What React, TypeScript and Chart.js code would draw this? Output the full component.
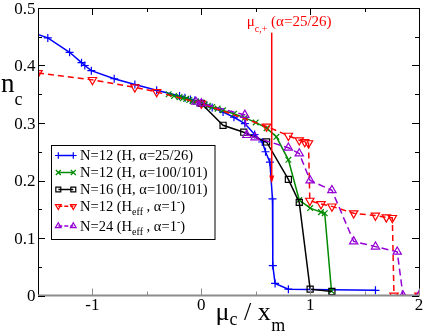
import React, { useEffect, useRef } from "react";
import { Chart, registerables } from "chart.js";

Chart.register(...registerables);

// ---------- data ----------
const blueX = [-1.56, -1.41, -1.21, -1.1, -1.07, -1.01, -0.8, -0.61, -0.41, -0.2, -0.15, -0.1, -0.06, -0.03, 0.0, 0.05, 0.1, 0.2, 0.3, 0.4, 0.49, 0.56, 0.59, 0.63, 0.654, 0.657, 0.678, 0.8, 1.6];
const blueY = [0.458, 0.448, 0.423, 0.405, 0.4, 0.391, 0.377, 0.367, 0.357, 0.347, 0.344, 0.341, 0.339, 0.336, 0.334, 0.331, 0.327, 0.319, 0.31, 0.299, 0.28, 0.267, 0.25, 0.232, 0.168, 0.052, 0.021, 0.011, 0.009];

const greenX = [-0.3, -0.25, -0.2, -0.17, -0.14, -0.11, -0.08, -0.05, -0.02, 0.0, 0.03, 0.06, 0.1, 0.15, 0.2, 0.3, 0.4, 0.5, 0.6, 0.69, 0.8, 0.9, 1.0, 1.1, 1.134, 1.196];
const greenY = [0.35, 0.347, 0.345, 0.343, 0.342, 0.34, 0.338, 0.337, 0.335, 0.334, 0.332, 0.33, 0.328, 0.325, 0.322, 0.316, 0.309, 0.301, 0.291, 0.276, 0.236, 0.166, 0.152, 0.145, 0.143, 0.008];

const blackX = [0.0, 0.2, 0.39, 0.6, 0.8, 0.9, 1.0, 1.2];
const blackY = [0.334, 0.296, 0.284, 0.267, 0.202, 0.162, 0.011, 0.007];

const redX = [-1.5, -1.0, -0.61, -0.41, 0.0, 0.6, 0.8, 0.9, 0.95, 0.985, 0.997, 1.1, 1.2, 1.4, 1.6, 1.7, 1.755, 1.77, 2.0];
const redY = [0.387, 0.375, 0.362, 0.354, 0.334, 0.294, 0.278, 0.27, 0.267, 0.265, 0.165, 0.159, 0.155, 0.143, 0.139, 0.136, 0.135, 0.0, 0.0];

const purpleX = [-0.05, 0.0, 0.4, 0.418, 0.494, 0.8, 0.9, 1.0, 1.2, 1.4, 1.6, 1.8, 1.853, 2.0];
const purpleY = [0.337, 0.334, 0.314, 0.279, 0.275, 0.257, 0.247, 0.2, 0.183, 0.094, 0.085, 0.076, 0.0, 0.0];

// ---------- ticks ----------
const xMajor = [-1, 0, 1, 2];
const xMajorLabels = ["-1", "0", "1", "2"];
const xMinor = [-0.5, 0.5, 1.5];
const yMajor = [0, 0.1, 0.2, 0.3, 0.4, 0.5];
const yMajorLabels = ["0", "0.1", "0.2", "0.3", "0.4", "0.5"];
const yMinor = [0.05, 0.15, 0.25, 0.35, 0.45];

// annotation (mu_c,+ for alpha = 25/26)
const muCPlusX = 0.647;
const arrowTopY = 0.457;
const arrowTipY = 0.195;

const SERIF = '"Liberation Serif", "DejaVu Serif", serif';

type Run = { t: string; k?: "sub" | "sup" };

const legendRows: { color: string; marker: string; dash: number[]; runs: Run[] }[] = [
  { color: "#0000ff", marker: "plus", dash: [], runs: [{ t: "N=12 (H, α=25/26)" }] },
  { color: "#008b00", marker: "x", dash: [], runs: [{ t: "N=12 (H, α=100/101)" }] },
  { color: "#000000", marker: "square", dash: [], runs: [{ t: "N=16 (H, α=100/101)" }] },
  { color: "#ff0000", marker: "tridown", dash: [4, 2], runs: [{ t: "N=12 (H" }, { t: "eff", k: "sub" }, { t: " , α=1" }, { t: "-", k: "sup" }, { t: ")" }] },
  { color: "#9400d3", marker: "triup", dash: [4, 2], runs: [{ t: "N=24 (H" }, { t: "eff", k: "sub" }, { t: " , α=1" }, { t: "-", k: "sup" }, { t: ")" }] },
];

function drawRuns(ctx: CanvasRenderingContext2D, x: number, y: number, runs: Run[], size: number, subSize: number, subDy: number, supDy: number) {
  let cx = x;
  for (const r of runs) {
    const s = r.k ? subSize : size;
    ctx.font = `${s}px ${SERIF}`;
    const dy = r.k === "sub" ? subDy : r.k === "sup" ? supDy : 0;
    ctx.fillText(r.t, cx, y + dy);
    cx += ctx.measureText(r.t).width;
  }
  return cx;
}

function drawMarker(ctx: CanvasRenderingContext2D, m: string, x: number, y: number, r: number, color: string) {
  ctx.save();
  ctx.setLineDash([]);
  ctx.strokeStyle = color;
  ctx.lineWidth = 1.2;
  ctx.beginPath();
  if (m === "plus") {
    ctx.moveTo(x - r, y); ctx.lineTo(x + r, y);
    ctx.moveTo(x, y - r); ctx.lineTo(x, y + r);
  } else if (m === "x") {
    const d = r * 0.75;
    ctx.moveTo(x - d, y - d); ctx.lineTo(x + d, y + d);
    ctx.moveTo(x - d, y + d); ctx.lineTo(x + d, y - d);
  } else if (m === "square") {
    ctx.rect(x - r * 0.75, y - r * 0.75, r * 1.5, r * 1.5);
  } else if (m === "triup") {
    ctx.moveTo(x, y - r); ctx.lineTo(x + r * 0.866, y + r / 2); ctx.lineTo(x - r * 0.866, y + r / 2); ctx.closePath();
  } else {
    ctx.moveTo(x, y + r); ctx.lineTo(x + r * 0.866, y - r / 2); ctx.lineTo(x - r * 0.866, y - r / 2); ctx.closePath();
  }
  ctx.stroke();
  ctx.restore();
}

const decorPlugin = {
  id: "decor",
  afterDatasetsDraw(chart: any) {
    const ctx: CanvasRenderingContext2D = chart.ctx;
    const { left, right, top, bottom } = chart.chartArea;
    const xs = chart.scales.x;
    const ys = chart.scales.y;
    ctx.save();

    // annotation arrow
    const ax = xs.getPixelForValue(muCPlusX);
    const aTop = ys.getPixelForValue(arrowTopY);
    const aTip = ys.getPixelForValue(arrowTipY);
    ctx.strokeStyle = "#ff0000";
    ctx.fillStyle = "#ff0000";
    ctx.lineWidth = 1.5;
    ctx.beginPath();
    ctx.moveTo(ax, aTop);
    ctx.lineTo(ax, aTip - 6);
    ctx.stroke();
    ctx.beginPath();
    ctx.moveTo(ax, aTip);
    ctx.lineTo(ax - 2.5, aTip - 8);
    ctx.lineTo(ax + 2.5, aTip - 8);
    ctx.closePath();
    ctx.fill();
    ctx.textAlign = "left";
    ctx.textBaseline = "alphabetic";
    drawRuns(ctx, ax - 25, aTop - 7, [{ t: "μ" }, { t: "c,+", k: "sub" }, { t: " (α=25/26)" }], 15, 10, 6, 0);

    // frame
    ctx.strokeStyle = "#000";
    ctx.lineWidth = 1;
    ctx.beginPath();
    ctx.moveTo(left + 0.5, bottom);
    ctx.lineTo(left + 0.5, top + 0.5);
    ctx.lineTo(right + 0.5, top + 0.5);
    ctx.lineTo(right + 0.5, bottom);
    ctx.stroke();
    ctx.strokeStyle = "#8c8c8c";
    ctx.lineWidth = 2;
    ctx.beginPath();
    ctx.moveTo(left, bottom);
    ctx.lineTo(right + 1, bottom);
    ctx.stroke();

    // ticks
    ctx.lineWidth = 1;
    const xt = (v: number, len: number) => {
      const p = Math.round(xs.getPixelForValue(v)) + 0.5;
      ctx.strokeStyle = "#8c8c8c";
      ctx.beginPath(); ctx.moveTo(p, bottom); ctx.lineTo(p, bottom - len); ctx.stroke();
      ctx.strokeStyle = "#000";
      ctx.beginPath(); ctx.moveTo(p, top); ctx.lineTo(p, top + len); ctx.stroke();
    };
    const yt = (v: number, len: number) => {
      const p = Math.round(ys.getPixelForValue(v)) + 0.5;
      ctx.strokeStyle = "#000";
      ctx.beginPath(); ctx.moveTo(left, p); ctx.lineTo(left + len, p); ctx.stroke();
      ctx.beginPath(); ctx.moveTo(right, p); ctx.lineTo(right - len, p); ctx.stroke();
    };
    xMajor.forEach((v) => xt(v, 7));
    xMinor.forEach((v) => xt(v, 4));
    yMajor.forEach((v) => yt(v, 7));
    yMinor.forEach((v) => yt(v, 4));

    // tick labels
    ctx.fillStyle = "#000";
    ctx.font = `17px ${SERIF}`;
    ctx.textAlign = "center";
    xMajor.forEach((v, i) => ctx.fillText(xMajorLabels[i], xs.getPixelForValue(v), 309.5));
    ctx.textAlign = "right";
    yMajor.forEach((v, i) => ctx.fillText(yMajorLabels[i], 35.5, ys.getPixelForValue(v) + 5.8));

    // axis titles
    ctx.textAlign = "left";
    drawRuns(ctx, 1, 91.7, [{ t: "n" }, { t: "c", k: "sub" }], 27, 18, 13, 0);
    let cx = drawRuns(ctx, 215.5, 320, [{ t: "μ" }, { t: "c", k: "sub" }], 26, 18, 5, 0);
    cx = drawRuns(ctx, cx, 320, [{ t: " / x" }], 26, 18, 0, 0);
    drawRuns(ctx, cx + 0.5, 320, [{ t: "m", k: "sub" }], 26, 18, 10.5, 0);

    // legend
    const lx = 51.5, ly = 145.5, lw = 163.5, lh = 94;
    ctx.fillStyle = "#fff";
    ctx.fillRect(lx, ly, lw, lh);
    ctx.strokeStyle = "#000";
    ctx.lineWidth = 1;
    ctx.strokeRect(lx, ly, lw, lh);
    const baselines = [160, 177, 194, 210.7, 230.5];
    legendRows.forEach((row, i) => {
      const by = baselines[i];
      const sy = by - 4.5;
      ctx.save();
      ctx.strokeStyle = row.color;
      ctx.lineWidth = 1.5;
      ctx.setLineDash(row.dash);
      ctx.beginPath(); ctx.moveTo(58.3, sy); ctx.lineTo(73.3, sy); ctx.stroke();
      ctx.restore();
      drawMarker(ctx, row.marker, 58.3, sy, 3.3, row.color);
      drawMarker(ctx, row.marker, 73.3, sy, 3.3, row.color);
      ctx.fillStyle = "#000";
      ctx.textAlign = "left";
      drawRuns(ctx, 80, by, row.runs, 14.5, 10, 4.5, -6);
    });

    ctx.restore();
  },
};

function pts(xs: number[], ys: number[]) {
  return xs.map((x, i) => ({ x, y: ys[i] }));
}

export default function App() {
  const ref = useRef<HTMLCanvasElement | null>(null);
  useEffect(() => {
    if (!ref.current) return;
    const chart = new Chart(ref.current, {
      type: "scatter",
      data: {
        datasets: [
          { label: "N=12 (H, α=25/26)", data: pts(blueX, blueY), showLine: true, borderColor: "#0000ff", backgroundColor: "#0000ff", borderWidth: 1.5, pointStyle: "cross", pointRadius: 4, pointBorderWidth: 1.2, order: 4 },
          { label: "N=12 (H, α=100/101)", data: pts(greenX, greenY), showLine: true, borderColor: "#008b00", backgroundColor: "#008b00", borderWidth: 1.5, pointStyle: "crossRot", pointRadius: 4, pointBorderWidth: 1.2, order: 3 },
          { label: "N=16 (H, α=100/101)", data: pts(blackX, blackY), showLine: true, borderColor: "#000000", backgroundColor: "rgba(0,0,0,0)", borderWidth: 1.5, pointStyle: "rect", pointRadius: 4.3, pointBorderWidth: 1.2, order: 2 },
          { label: "N=12 (Heff, α=1-)", data: pts(redX, redY), showLine: true, borderColor: "#ff0000", backgroundColor: "rgba(0,0,0,0)", borderWidth: 1.5, borderDash: [6, 4], pointStyle: "triangle", rotation: 180, pointRadius: 4.8, pointBorderWidth: 1.2, order: 1 },
          { label: "N=24 (Heff, α=1-)", data: pts(purpleX, purpleY), showLine: true, borderColor: "#9400d3", backgroundColor: "rgba(0,0,0,0)", borderWidth: 1.5, borderDash: [7, 4], pointStyle: "triangle", pointRadius: 4.8, pointBorderWidth: 1.2, order: 0 },
        ],
      },
      options: {
        responsive: false,
        maintainAspectRatio: false,
        animation: false,
        layout: { padding: { left: 38, top: 8, right: 5, bottom: 36.5 } },
        scales: {
          x: { type: "linear", min: -1.5, max: 2, display: false },
          y: { type: "linear", min: 0, max: 0.5, display: false },
        },
        elements: { line: { tension: 0 } },
        plugins: { legend: { display: false }, tooltip: { enabled: false } },
      },
      plugins: [decorPlugin],
    });
    return () => chart.destroy();
  }, []);
  return (
    <div style={{ position: "fixed", left: 0, top: 0, width: 425, height: 332, background: "#fff" }}>
      <canvas ref={ref} width={425} height={332} style={{ width: 425, height: 332 }} />
    </div>
  );
}
